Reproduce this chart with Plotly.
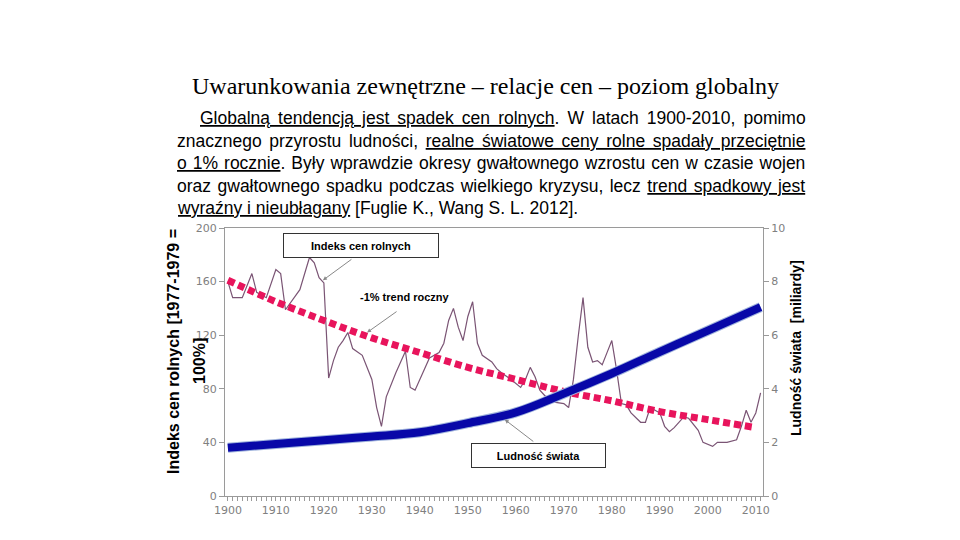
import plotly.graph_objects as go

# ---- data ----
price_years = [1900, 1901, 1903, 1905, 1906, 1908, 1910, 1911, 1912, 1915, 1917, 1918, 1919, 1920,
               1921, 1922, 1923, 1924, 1925, 1926, 1928, 1930, 1931, 1932, 1933, 1935, 1937, 1938,
               1939, 1940, 1942, 1944, 1945, 1946, 1947, 1948, 1949, 1950, 1951, 1952, 1953, 1955,
               1956, 1957, 1959, 1961, 1962, 1963, 1964, 1965, 1966, 1968, 1970, 1971, 1972, 1973,
               1974, 1975, 1976, 1977, 1978, 1979, 1980, 1981, 1982, 1983, 1984, 1986, 1987, 1988,
               1990, 1991, 1992, 1993, 1995, 1996, 1998, 1999, 2001, 2002, 2004, 2006, 2007, 2008,
               2009, 2010, 2011]
price_index = [160, 148, 148, 166, 152, 148, 169, 166, 139, 154, 178, 174, 163, 159,
               88, 101, 111, 116, 122, 110, 105, 87, 66, 52, 74, 92, 108, 81,
               79, 87, 103, 107, 114, 131, 140, 126, 116, 134, 145, 114, 105, 100,
               95, 92, 87, 81, 87, 96, 89, 79, 75, 70, 69, 66, 87, 119,
               148, 111, 100, 101, 98, 107, 116, 94, 69, 68, 62, 55, 55, 66,
               62, 52, 48, 51, 59, 58, 49, 40, 37, 40, 40, 42, 52, 64,
               55, 62, 77]

trend_years = [1900, 1910, 1920, 1930, 1940, 1950, 1960, 1970, 1980, 1990, 2000, 2010]
trend_index = [161, 145, 131, 118, 107, 96, 87, 78, 71, 63, 57, 51]

pop_years = [1900, 1910, 1920, 1930, 1940, 1950, 1960, 1970, 1980, 1990, 2000, 2011]
population = [1.80, 1.94, 2.08, 2.22, 2.38, 2.72, 3.12, 3.82, 4.57, 5.38, 6.17, 7.05]

left_ticks = [0, 40, 80, 120, 160, 200]
right_ticks = [0, 2, 4, 6, 8, 10]
x_ticks = [1900, 1910, 1920, 1930, 1940, 1950, 1960, 1970, 1980, 1990, 2000, 2010]

fig = go.Figure()

fig.add_trace(go.Scatter(x=price_years, y=price_index, mode="lines",
                         line=dict(color="#7a5474", width=1.2), yaxis="y", showlegend=False))
fig.add_trace(go.Scatter(x=pop_years, y=population, mode="lines", line_shape="spline",
                         line=dict(color="#9fb3dc", width=10), yaxis="y2", showlegend=False))
fig.add_trace(go.Scatter(x=pop_years, y=population, mode="lines", line_shape="spline",
                         line=dict(color="#0808a8", width=8), yaxis="y2", showlegend=False))
fig.add_trace(go.Scatter(x=trend_years, y=trend_index, mode="lines", line_shape="spline",
                         line=dict(color="#e8145c", width=7, dash="7px,4px"), yaxis="y", showlegend=False))

tickfont = dict(family="DejaVu Sans", size=11, color="#808080")
axcol = "#9a9a9a"

# page body adds an 8px offset, so margins are reduced by 8
fig.update_layout(
    width=960, height=540,
    paper_bgcolor="white", plot_bgcolor="white",
    margin=dict(l=217, r=205, t=220, b=52),
    xaxis=dict(range=[1899.4, 2011.5], tickvals=x_ticks, ticks="outside", ticklen=4,
               tickcolor=axcol, showline=True, linecolor=axcol, mirror=True, showgrid=False,
               zeroline=False, tickfont=tickfont,
               minor=dict(dtick=1, tick0=1900, ticks="outside", ticklen=4, tickcolor=axcol, showgrid=False)),
    yaxis=dict(range=[0, 200], tickvals=left_ticks, ticks="outside", ticklen=5, tickcolor=axcol,
               showline=True, linecolor=axcol, showgrid=False, zeroline=False, tickfont=tickfont),
    yaxis2=dict(range=[0, 10], tickvals=right_ticks, overlaying="y", side="right", ticks="outside",
                ticklen=5, tickcolor=axcol, showline=True, linecolor=axcol, showgrid=False,
                zeroline=False, tickfont=tickfont),
)

# ---- titles and texts (positions given in screen pixels of the plot frame) ----
W, H = 538.0, 268.0
def px(xp):
    return (xp - 225) / W
def py(yp):
    return (496 - yp) / H

ann = []
ann.append(dict(text="Uwarunkowania zewnętrzne – relacje cen – poziom globalny", x=px(485), y=py(86),
                xref="paper", yref="paper", showarrow=False, xanchor="center", yanchor="middle",
                font=dict(family="Liberation Serif", size=24, color="black")))

pfont = dict(family="Liberation Sans", size=17.5, color="black")
# (y, text, left x, extra word spacing for justification)
lines = [
    (118, "<u>Globalną tendencją jest spadek cen rolnych</u>. W latach 1900-2010, pomimo", 198, 3.2),
    (141, "znacznego przyrostu ludności, <u>realne światowe ceny rolne spadały przeciętnie</u>", 175, 2.8),
    (163, "<u>o 1% rocznie</u>. Były wprawdzie okresy gwałtownego wzrostu cen w czasie wojen", 175, 1.15),
    (186, "oraz gwałtownego spadku podczas wielkiego kryzysu, lecz <u>trend spadkowy jest</u>", 175, 1.6),
    (208, "<u>wyraźny i nieubłagany</u> [Fuglie K., Wang S. L. 2012].", 175, 0),
]
for yy, txt, x0, ws in lines:
    t = f"<span style='word-spacing:{ws}px'>{txt}</span>" if ws else txt
    ann.append(dict(text=t, x=px(x0), y=py(yy), xref="paper", yref="paper", showarrow=False,
                    xanchor="left", yanchor="middle", font=pfont))

afont = dict(family="Liberation Sans", size=16, color="black")
ann.append(dict(text="<b>Indeks cen rolnych [1977-1979 =</b>", x=px(173), y=py(352), xref="paper",
                yref="paper", showarrow=False, textangle=-90, xanchor="center", yanchor="middle", font=afont))
ann.append(dict(text="<b>100%]</b>", x=px(199), y=py(361), xref="paper",
                yref="paper", showarrow=False, textangle=-90, xanchor="center", yanchor="middle", font=afont))
ann.append(dict(text="<b>Ludność świata  [miliardy]</b>", x=px(796), y=py(348), xref="paper",
                yref="paper", showarrow=False, textangle=-90, xanchor="center", yanchor="middle",
                font=dict(family="Liberation Sans", size=14, color="black")))

bfont = dict(family="Liberation Sans", size=11, color="black")
ann.append(dict(text="<b>Indeks cen rolnych</b>", x=px(361), y=py(245.5), xref="paper", yref="paper",
                showarrow=False, xanchor="center", yanchor="middle", width=150, height=19, borderpad=2,
                bordercolor="#333333", borderwidth=1, bgcolor="white", font=bfont))
ann.append(dict(text="<b>Ludność świata</b>", x=px(538.5), y=py(455.5), xref="paper", yref="paper",
                showarrow=False, xanchor="center", yanchor="middle", width=129, height=19, borderpad=2,
                bordercolor="#333333", borderwidth=1, bgcolor="white", font=bfont))
ann.append(dict(text="<b>-1% trend roczny</b>", x=px(405), y=py(297), xref="paper", yref="paper",
                showarrow=False, xanchor="center", yanchor="middle",
                font=dict(family="Liberation Sans", size=11, color="black")))

# arrows
arrow = dict(text="", showarrow=True, arrowhead=2, arrowsize=0.8, arrowwidth=1, arrowcolor="#888888")
ann.append(dict(arrow, x=1919.8, y=161, xref="x", yref="y", ax=30, ay=-22))
ann.append(dict(arrow, x=1929.0, y=122, xref="x", yref="y", ax=31, ay=-22))
ann.append(dict(arrow, x=1957.7, y=2.85, xref="x", yref="y2", ax=30, ay=23))

fig.update_layout(annotations=ann)
fig.write_html("out.html")
